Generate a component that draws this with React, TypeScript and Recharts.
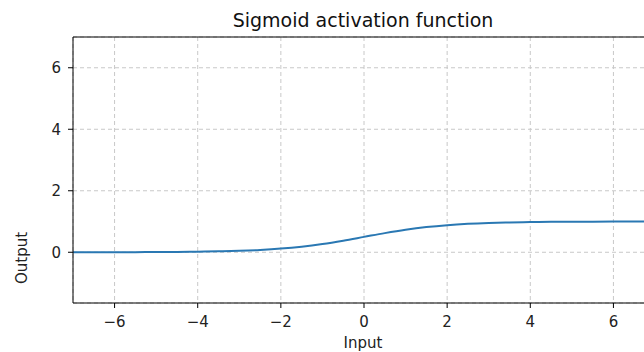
import { LineChart, Line, XAxis, YAxis, CartesianGrid, ReferenceLine } from 'recharts';

const inputs = [
  -7, -6.5, -6, -5.5, -5, -4.5, -4, -3.5, -3, -2.5, -2, -1.5, -1, -0.5, 0,
  0.5, 1, 1.5, 2, 2.5, 3, 3.5, 4, 4.5, 5, 5.5, 6, 6.5, 7,
];
const outputs = [
  0.0009, 0.0015, 0.0025, 0.0041, 0.0067, 0.011, 0.018, 0.0293, 0.0474, 0.0759,
  0.1192, 0.1824, 0.2689, 0.3775, 0.5, 0.6225, 0.7311, 0.8176, 0.8808, 0.9241,
  0.9526, 0.9707, 0.982, 0.989, 0.9933, 0.9959, 0.9975, 0.9985, 0.9991,
];
const xTicks = [-6, -4, -2, 0, 2, 4, 6];
const yTicks = [0, 2, 4, 6];

const data = inputs.map((x, i) => ({ x, y: outputs[i] }));

const FONT = '"DejaVu Sans", sans-serif';
const fmt = (v: number) => String(v).replace('-', '\u2212');

export default function App() {
  return (
    <div style={{ position: 'absolute', left: 0, top: 0, width: 644, height: 352, overflow: 'hidden', background: '#fff' }}>
      <LineChart
        width={680}
        height={352}
        data={data}
        margin={{ top: 37, right: 25, bottom: 0, left: 13 }}
      >
        <CartesianGrid stroke="#c8c8c8" strokeDasharray="4 3" />
        <XAxis
          dataKey="x"
          type="number"
          domain={[-7, 7]}
          ticks={xTicks}
          tickFormatter={fmt}
          allowDataOverflow
          height={49}
          axisLine={{ stroke: '#000' }}
          tickLine={{ stroke: '#000' }}
          tickSize={5}
          tickMargin={8}
          tick={{ fill: '#222', fontSize: 15, fontFamily: FONT }}
        />
        <YAxis
          type="number"
          domain={[-1.65, 7]}
          ticks={yTicks}
          allowDataOverflow
          width={60}
          axisLine={{ stroke: '#000' }}
          tickLine={{ stroke: '#000' }}
          tickSize={5}
          tickMargin={7}
          tick={{ fill: '#222', fontSize: 15, fontFamily: FONT }}
        />
        <ReferenceLine y={7} stroke="#000" />
        <ReferenceLine x={7} stroke="#000" />
        <Line
          dataKey="y"
          type="monotone"
          stroke="#2a78b3"
          strokeWidth={2}
          dot={false}
          isAnimationActive={false}
        />
        <text x={363} y={27} textAnchor="middle" fontSize={19} fontFamily={FONT} fill="#111">
          Sigmoid activation function
        </text>
        <text x={363} y={348} textAnchor="middle" fontSize={15} fontFamily={FONT} fill="#222">
          Input
        </text>
        <text
          x={27}
          y={258}
          textAnchor="middle"
          fontSize={15}
          fontFamily={FONT}
          fill="#222"
          transform="rotate(-90 27 258)"
        >
          Output
        </text>
      </LineChart>
    </div>
  );
}
